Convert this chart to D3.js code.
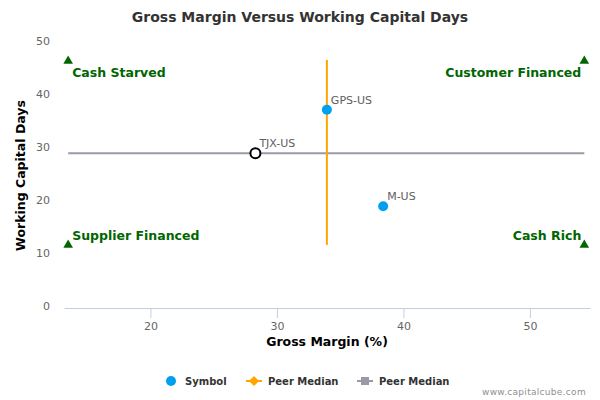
<!DOCTYPE html>
<html>
<head>
<meta charset="utf-8">
<script src="https://cdn.jsdelivr.net/npm/d3@7"></script>
<style>
  body { margin: 0; background: #fff; }
  svg { font-family: "DejaVu Sans", sans-serif; }
</style>
</head>
<body>
<div id="chart"></div>
<script>
// symbols: gross margin (%) vs working capital days
const symbols = ['GPS-US', 'M-US', 'TJX-US'];
const grossMargin = [33.95, 38.4, 28.3];
const wcDays = [37.4, 19.2, 29.2];
const isSelected = [false, false, true];

// peer medians
const peerMedianX = [33.95, 33.95];
const peerMedianXDays = [11.9, 46.8];
const peerMedianY = [29.2, 29.2];
const peerMedianYMargin = [13.5, 54.3];

// quadrant markers
const quadrants = ['Cash Starved', 'Customer Financed', 'Supplier Financed', 'Cash Rich'];
const quadX = [13.5, 54.3, 13.5, 54.3];
const quadY = [46.6, 46.6, 11.9, 11.9];

const xTicks = [20, 30, 40, 50];
const yTicks = [0, 10, 20, 30, 40, 50];

const W = 600, H = 400;
const margin = { top: 43, right: 10, bottom: 92, left: 64 };

const svg = d3.select('#chart').append('svg')
  .attr('width', W)
  .attr('height', H);

const x = d3.scaleLinear()
  .domain([13.17, 54.75])
  .range([margin.left, W - margin.right]);

const y = d3.scaleLinear()
  .domain([0, 50])
  .range([H - margin.bottom, margin.top]);

// title
svg.append('text')
  .attr('x', W / 2)
  .attr('y', 22)
  .attr('text-anchor', 'middle')
  .attr('font-size', 14)
  .attr('font-weight', 'bold')
  .attr('fill', '#333')
  .text('Gross Margin Versus Working Capital Days');

// x axis
const xAxis = svg.append('g')
  .attr('transform', `translate(0,${y(0)})`)
  .call(d3.axisBottom(x).tickValues(xTicks).tickSize(10).tickSizeOuter(0).tickPadding(4));
xAxis.select('.domain').attr('stroke', '#C0D0E0');
xAxis.selectAll('.tick line').attr('stroke', '#C0D0E0');
xAxis.selectAll('.tick text').attr('fill', '#666').attr('font-size', 11)
  .attr('font-family', '"DejaVu Sans", sans-serif');

// y axis (labels only)
const yAxis = svg.append('g')
  .attr('transform', `translate(${margin.left - 14},0)`)
  .call(d3.axisLeft(y).tickValues(yTicks).tickSize(0).tickPadding(0));
yAxis.select('.domain').remove();
yAxis.selectAll('.tick text').attr('fill', '#666').attr('font-size', 11)
  .attr('dy', '0.1em')
  .attr('font-family', '"DejaVu Sans", sans-serif');

// axis titles
svg.append('text')
  .attr('x', (x.range()[0] + x.range()[1]) / 2)
  .attr('y', 346)
  .attr('text-anchor', 'middle')
  .attr('font-size', 12.5)
  .attr('font-weight', 'bold')
  .attr('fill', '#000')
  .text('Gross Margin (%)');

svg.append('text')
  .attr('transform', `translate(25,${(y.range()[0] + y.range()[1]) / 2}) rotate(-90)`)
  .attr('text-anchor', 'middle')
  .attr('font-size', 12.5)
  .attr('font-weight', 'bold')
  .attr('fill', '#000')
  .text('Working Capital Days');

// peer median lines
svg.append('line')
  .attr('x1', x(peerMedianYMargin[0])).attr('x2', x(peerMedianYMargin[1]))
  .attr('y1', y(peerMedianY[0])).attr('y2', y(peerMedianY[1]))
  .attr('stroke', '#999aa6')
  .attr('stroke-width', 2);

svg.append('line')
  .attr('x1', x(peerMedianX[0])).attr('x2', x(peerMedianX[1]))
  .attr('y1', y(peerMedianXDays[0])).attr('y2', y(peerMedianXDays[1]))
  .attr('stroke', '#FFA500')
  .attr('stroke-width', 2);

// quadrant markers
const tri = d3.symbol().type(d3.symbolTriangle).size(40);
quadrants.forEach((q, i) => {
  const px = x(quadX[i]), py = y(quadY[i]);
  svg.append('path')
    .attr('d', tri)
    .attr('transform', `translate(${px},${py})`)
    .attr('fill', '#006600');
  const left = i % 2 === 0;
  const top = i < 2;
  svg.append('text')
    .attr('x', left ? px + 4 : px - 3)
    .attr('y', top ? py + 16 : py - 5)
    .attr('text-anchor', left ? 'start' : 'end')
    .attr('font-size', 12.5)
    .attr('font-weight', 'bold')
    .attr('fill', '#006600')
    .text(q);
});

// symbols
symbols.forEach((s, i) => {
  const px = x(grossMargin[i]), py = y(wcDays[i]);
  if (isSelected[i]) {
    svg.append('circle')
      .attr('cx', px).attr('cy', py).attr('r', 5)
      .attr('fill', '#fff')
      .attr('stroke', '#000')
      .attr('stroke-width', 2);
  } else {
    svg.append('circle')
      .attr('cx', px).attr('cy', py).attr('r', 5)
      .attr('fill', '#00A0F0');
  }
  svg.append('text')
    .attr('x', px + 4)
    .attr('y', py - 6)
    .attr('font-size', 11)
    .attr('fill', '#606060')
    .text(s);
});

// legend
const lg = svg.append('g').attr('transform', 'translate(0,381)');
lg.append('circle').attr('cx', 171).attr('cy', 0).attr('r', 5).attr('fill', '#00A0F0');
lg.append('text').attr('x', 185).attr('y', 4).attr('font-size', 10).attr('font-weight', 'bold')
  .attr('fill', '#333').text('Symbol');

lg.append('line').attr('x1', 246).attr('x2', 262).attr('y1', 0).attr('y2', 0)
  .attr('stroke', '#FFA500').attr('stroke-width', 2);
lg.append('rect').attr('x', -3.5).attr('y', -3.5).attr('width', 7).attr('height', 7)
  .attr('transform', 'translate(254,0) rotate(45)').attr('fill', '#FFA500');
lg.append('text').attr('x', 268).attr('y', 4).attr('font-size', 10).attr('font-weight', 'bold')
  .attr('fill', '#333').text('Peer Median');

lg.append('line').attr('x1', 357).attr('x2', 373).attr('y1', 0).attr('y2', 0)
  .attr('stroke', '#999aa6').attr('stroke-width', 2);
lg.append('rect').attr('x', 361).attr('y', -4).attr('width', 8).attr('height', 8).attr('fill', '#999aa6');
lg.append('text').attr('x', 379).attr('y', 4).attr('font-size', 10).attr('font-weight', 'bold')
  .attr('fill', '#333').text('Peer Median');

// credits
svg.append('text')
  .attr('x', 586)
  .attr('y', 395)
  .attr('text-anchor', 'end')
  .attr('font-size', 9)
  .attr('letter-spacing', 0.3)
  .attr('fill', '#909090')
  .text('www.capitalcube.com');
</script>
</body>
</html>
